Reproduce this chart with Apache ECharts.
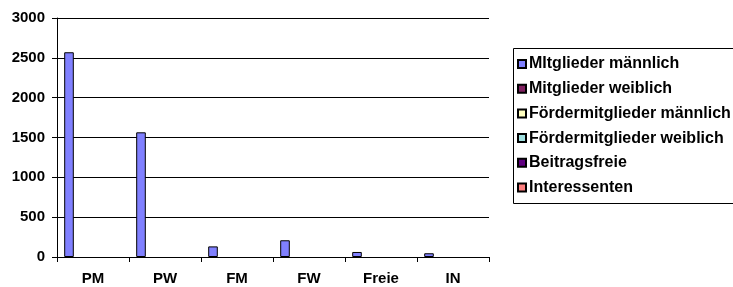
<!DOCTYPE html>
<html>
<head>
    <meta charset="utf-8">
    <title>Mitglieder</title>
    <script src="https://cdn.jsdelivr.net/npm/echarts@6/dist/echarts.min.js"></script>
    <style>
        *{margin: 0;padding: 0;}
        body{background: #fff;overflow: hidden;}
    </style>
</head>
<body>
    <div id="main" style="width: 733px;height:287px;"></div>
    <script type="text/javascript">
        // Daten (leere Serien haben keine Balken)
        var kategorien = ['PM', 'PW', 'FM', 'FW', 'Freie', 'IN'];
        var serienNamen = ['MItglieder männlich', 'Mitglieder weiblich', 'Fördermitglieder männlich',
                           'Fördermitglieder weiblich', 'Beitragsfreie', 'Interessenten'];
        var mitgliederM = [2570, 1565, 133, 210, 63, 47];
        var mitgliederW = [null, null, null, null, null, null];
        var foerderM = [null, null, null, null, null, null];
        var foerderW = [null, null, null, null, null, null];
        var beitragsfrei = [null, null, null, null, null, null];
        var interessenten = [null, null, null, null, null, null];
        var werte = [mitgliederM, mitgliederW, foerderM, foerderW, beitragsfrei, interessenten];
        var yTicks = [0, 500, 1000, 1500, 2000, 2500, 3000];

        var farben = ['#8080ff', '#802060', '#ffffc0', '#a0e0e0', '#600080', '#ff8080'];
        var schrift = 'Liberation Sans, Arial, sans-serif';

        var myChart = echarts.init(document.getElementById('main'));

        var series = serienNamen.map(function (name, i) {
            return {
                name: name,
                type: 'bar',
                data: werte[i],
                barGap: '0%',
                barCategoryGap: '20%',
                itemStyle: {color: farben[i], borderColor: '#000', borderWidth: 1},
                emphasis: {disabled: true}
            };
        });

        option = {
            backgroundColor: '#fff',
            animation: false,
            textStyle: {fontFamily: schrift},
            grid: {left: 57, right: 244, top: 18, bottom: 30, containLabel: false},
            // Rahmen der Legende, rechts offen (läuft aus dem Bild)
            graphic: [
                {type: 'line', shape: {x1: 513.5, y1: 48.5, x2: 733, y2: 48.5},
                 style: {stroke: '#000', lineWidth: 1}, silent: true},
                {type: 'line', shape: {x1: 513.5, y1: 48.5, x2: 513.5, y2: 203.5},
                 style: {stroke: '#000', lineWidth: 1}, silent: true},
                {type: 'line', shape: {x1: 513.5, y1: 203.5, x2: 733, y2: 203.5},
                 style: {stroke: '#000', lineWidth: 1}, silent: true}
            ],
            legend: {
                left: 514,
                top: 49,
                orient: 'vertical',
                icon: 'rect',
                itemWidth: 8,
                itemHeight: 8,
                itemGap: 8.7,
                padding: [7, 0, 0, 3],
                selectedMode: false,
                textStyle: {fontFamily: schrift, fontWeight: 'bold', fontSize: 16, color: '#000',
                            lineHeight: 16, padding: [0, 0, 0, -2]},
                data: serienNamen
            },
            xAxis: {
                type: 'category',
                data: kategorien,
                axisLine: {lineStyle: {color: '#000', width: 1}},
                axisTick: {show: true, length: 5, lineStyle: {color: '#000'}},
                axisLabel: {color: '#000', fontWeight: 'bold', fontSize: 15, margin: 14, fontFamily: schrift}
            },
            yAxis: {
                type: 'value',
                min: yTicks[0],
                max: yTicks[yTicks.length - 1],
                interval: 500,
                axisLine: {show: true, lineStyle: {color: '#000', width: 1}},
                axisTick: {show: true, length: 5, lineStyle: {color: '#000'}},
                axisLabel: {color: '#000', fontWeight: 'bold', fontSize: 15, margin: 12, fontFamily: schrift,
                            formatter: function (v) { return String(v); }},
                splitLine: {show: true, lineStyle: {color: '#000', width: 1}}
            },
            series: series
        };

        myChart.setOption(option);
    </script>
</body>
</html>
